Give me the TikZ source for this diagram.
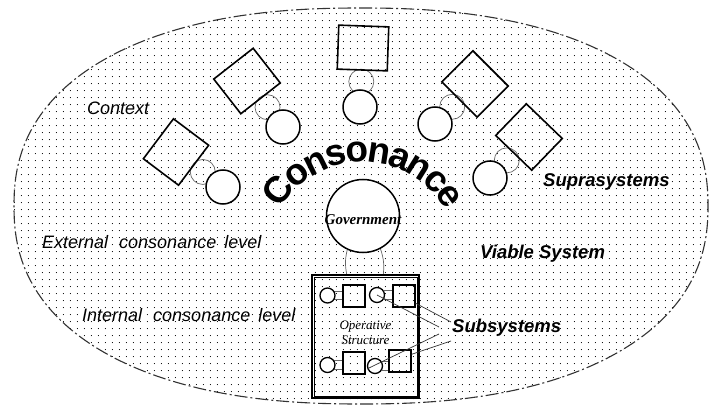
\documentclass[tikz,border=0pt]{standalone}
\usepackage{fontspec}
\setmainfont{Liberation Serif}
\newfontfamily\labelfont{Liberation Sans}
\usetikzlibrary{patterns.meta,decorations.text,calc}
\pgfdeclarelayer{bg}
\pgfdeclarelayer{mid}
\pgfsetlayers{bg,mid,main}

\begin{document}
\begin{tikzpicture}[x=1pt,y=1pt,
  unitbox/.style={draw, line width=1.6pt, minimum width=50pt, minimum height=44pt, inner sep=0pt},
  unitdisc/.style={circle, draw, fill=white, line width=1.5pt, minimum size=34pt, inner sep=0pt},
  linkring/.style={circle, draw=black!60, line width=0.7pt, minimum size=25pt, inner sep=0pt},
  opbox/.style={draw, line width=1.3pt, minimum width=22pt, minimum height=22pt, inner sep=0pt},
  opdisc/.style={circle, draw, fill=white, line width=1.3pt, minimum size=15pt, inner sep=0pt},
  thinlink/.style={draw=black!60, line width=0.7pt},
  pointer/.style={draw=black!80, line width=0.7pt},
  ctxlabel/.style={font=\labelfont\itshape\fontsize{18}{18}\selectfont, inner sep=0pt, anchor=west},
  syslabel/.style={font=\labelfont\bfseries\itshape\fontsize{18.5}{18.5}\selectfont, inner sep=0pt, anchor=west},
]
\useasboundingbox (0,0) rectangle (709,405);

% background and dotted context region
\begin{pgfonlayer}{bg}
  \fill[white] (0,0) rectangle (709,405);
  \path[pattern={Dots[distance=7.4pt, radius=0.6pt]}, pattern color=black,
        draw=black!80, line width=1.1pt, dash pattern=on 13pt off 3pt on 2pt off 3pt]
    plot[domain=1:359, samples=180, smooth cycle]
      ({361+347*cos(\x)*abs(cos(\x))^(-0.1304)}, {199+198*sin(\x)*abs(sin(\x))^(-0.1304)});
\end{pgfonlayer}

% suprasystems: a box and a disc each
\node[unitbox, rotate=53]   (s1) at (176,253) {};
\node[unitdisc]             (c1) at (223,218) {};
\node[unitbox, rotate=38]   (s2) at (247,324) {};
\node[unitdisc]             (c2) at (283,278) {};
\node[unitbox, rotate=-2]   (s3) at (363,357) {};
\node[unitdisc]             (c3) at (360,298) {};
\node[unitbox, rotate=-45]  (s4) at (475,321) {};
\node[unitdisc]             (c4) at (435,281) {};
\node[unitbox, rotate=-44]  (s5) at (529,268) {};
\node[unitdisc]             (c5) at (490,227) {};

\begin{pgfonlayer}{mid}
  \foreach \i in {1,...,5}
    \node[linkring] (l\i) at ($(s\i)!0.57!(c\i)$) {};
\end{pgfonlayer}

% the viable system's government
\node[circle, draw, fill=white, line width=1.5pt, minimum size=73pt, inner sep=0pt] (gov) at (363,189) {};
\node[font=\bfseries\itshape\fontsize{15}{15}\selectfont, inner sep=0pt] (govtxt) at (363,185) {Government};

% arched title, letters fitted to the arc
\coordinate (arcc) at (363,148);
\path[decorate, decoration={text effects along path, text={Consonance},
      text effects/.cd, text along path, fit text to path,
      characters={font=\labelfont\bfseries\fontsize{37}{37}\selectfont, inner sep=0pt}}]
  ([shift={(150:95)}]arcc) arc[start angle=150, end angle=29, radius=95];

% operative structure
\node[draw, line width=1.8pt, minimum width=107pt, minimum height=123pt, inner sep=0pt] (box) at (365.5,68.5) {};
\draw[line width=0.6pt] ([shift={(3pt,-3pt)}]box.north west) rectangle ([shift={(-3pt,3pt)}]box.south east);
\node[font=\itshape\fontsize{13}{15}\selectfont, align=center, inner sep=0pt] (optxt) at (365.5,72.5) {Operative\\Structure};

\coordinate (gl) at ($(box.north west)!0.327!(box.north east)$);
\coordinate (gr) at ($(box.north west)!0.664!(box.north east)$);
\begin{pgfonlayer}{mid}
  \draw[thinlink] (gov.245) to[bend right=12] (gl);
  \draw[thinlink] (gov.298) to[bend left=12] (gr);
\end{pgfonlayer}

\node[opdisc] (oc1) at (327.5,109.5) {};
\node[opbox]  (os1) at (354,109) {};
\node[opdisc] (oc2) at (377,110) {};
\node[opbox]  (os2) at (404,109) {};
\node[opdisc] (oc3) at (327.5,40) {};
\node[opbox]  (os3) at (354,42) {};
\node[opdisc] (oc4) at (375,39) {};
\node[opbox]  (os4) at (400,44) {};

\begin{pgfonlayer}{mid}
  \foreach \a/\b in {oc1/os1, oc2/os2, oc3/os3, oc4/os4} {
    \draw[thinlink] (\a.32) -- (\a.32 -| \b.west);
    \draw[thinlink] (\a.-32) -- (\a.-32 -| \b.west);
  }
\end{pgfonlayer}

% labels
\node[ctxlabel] (ctx) at (87,297) {Context};
\node[ctxlabel] (ext) at (42,163) {External\hspace{6pt} consonance\hspace{3pt} level};
\node[ctxlabel] (int) at (82,90) {Internal\hspace{6pt} consonance\hspace{3pt} level};
\node[syslabel] (supra) at (543,223) {Suprasystems};
\node[syslabel] (viable) at (480,151) {Viable System};
\node[syslabel] (sub) at (452,77) {Subsystems};

% pointers to the subsystems
\coordinate (pa) at (439,78);
\coordinate (pb) at (451,83);
\coordinate (pc) at (439,71);
\coordinate (pd) at (451,64);
\draw[pointer] (oc2.center) -- (pa);
\draw[pointer] (os2.-32) -- (pb);
\draw[pointer] (oc4.200) -- (pc);
\draw[pointer] (os4.30) -- (pd);
\end{tikzpicture}
\end{document}
